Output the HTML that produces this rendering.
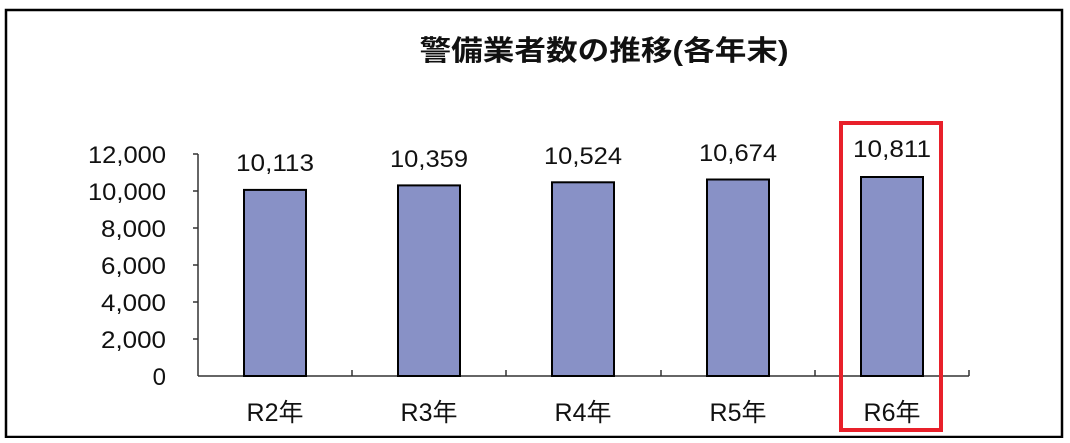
<!DOCTYPE html>
<html><head><meta charset="utf-8"><style>html,body{margin:0;padding:0;background:#fff;}</style></head>
<body>
<svg width="1070" height="438" viewBox="0 0 1070 438" xmlns="http://www.w3.org/2000/svg" font-family="'Liberation Sans','Noto Sans CJK JP',sans-serif">
<rect x="0" y="0" width="1070" height="438" fill="#fff"/>
<rect x="6" y="10" width="1056" height="427" fill="none" stroke="#000" stroke-width="2.5"/>
<text x="604" y="60" text-anchor="middle" font-size="28" font-weight="bold" fill="#111" textLength="369" lengthAdjust="spacingAndGlyphs">警備業者数の推移(各年末)</text>
<g stroke="#333" stroke-width="1.5" fill="none">
<line x1="198" y1="154" x2="198" y2="376"/>
<line x1="198" y1="376" x2="969" y2="376"/>
<line x1="193" y1="154" x2="198" y2="154"/>
<line x1="193" y1="191" x2="198" y2="191"/>
<line x1="193" y1="228" x2="198" y2="228"/>
<line x1="193" y1="265" x2="198" y2="265"/>
<line x1="193" y1="302" x2="198" y2="302"/>
<line x1="193" y1="339" x2="198" y2="339"/>
<line x1="352" y1="370" x2="352" y2="376"/>
<line x1="506" y1="370" x2="506" y2="376"/>
<line x1="661" y1="370" x2="661" y2="376"/>
<line x1="815" y1="370" x2="815" y2="376"/>
<line x1="969" y1="370" x2="969" y2="376"/>
</g>
<g font-size="24" fill="#111" text-anchor="end">
<text x="166" y="163" textLength="78" lengthAdjust="spacingAndGlyphs">12,000</text>
<text x="166" y="200" textLength="78" lengthAdjust="spacingAndGlyphs">10,000</text>
<text x="166" y="237" textLength="65" lengthAdjust="spacingAndGlyphs">8,000</text>
<text x="166" y="274" textLength="65" lengthAdjust="spacingAndGlyphs">6,000</text>
<text x="166" y="311" textLength="65" lengthAdjust="spacingAndGlyphs">4,000</text>
<text x="166" y="348" textLength="65" lengthAdjust="spacingAndGlyphs">2,000</text>
<text x="166" y="385">0</text>
</g>
<g fill="#8891c6" stroke="#000" stroke-width="2">
<rect x="244" y="189.9" width="62" height="186.1"/>
<rect x="398" y="185.4" width="62" height="190.6"/>
<rect x="552" y="182.3" width="62" height="193.7"/>
<rect x="707" y="179.5" width="62" height="196.5"/>
<rect x="861" y="177.0" width="62" height="199.0"/>
</g>
<g font-size="24" fill="#111" text-anchor="middle">
<text x="275" y="171" textLength="78" lengthAdjust="spacingAndGlyphs">10,113</text>
<text x="429" y="167" textLength="78" lengthAdjust="spacingAndGlyphs">10,359</text>
<text x="583" y="164" textLength="78" lengthAdjust="spacingAndGlyphs">10,524</text>
<text x="738" y="161" textLength="78" lengthAdjust="spacingAndGlyphs">10,674</text>
<text x="892" y="157" textLength="78" lengthAdjust="spacingAndGlyphs">10,811</text>
</g>
<g font-size="25" fill="#111" text-anchor="middle">
<text x="275" y="421">R2年</text>
<text x="429" y="421">R3年</text>
<text x="583" y="421">R4年</text>
<text x="738" y="421">R5年</text>
<text x="892" y="421">R6年</text>
</g>
<rect x="841" y="123" width="100" height="307" fill="none" stroke="#e8202a" stroke-width="4"/>
</svg>
</body></html>
